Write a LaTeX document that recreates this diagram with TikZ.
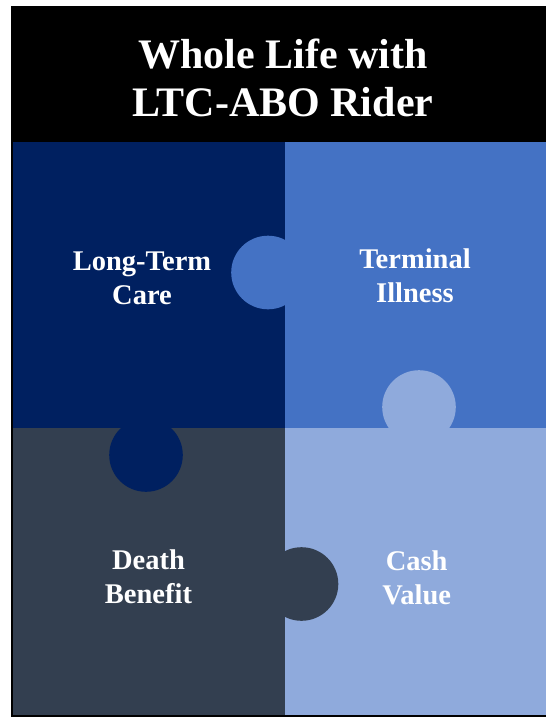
\documentclass[tikz,border=0pt]{standalone}
\usepackage{fontspec}
\setmainfont{Liberation Serif}
\definecolor{navyc}{HTML}{002060}
\definecolor{bluec}{HTML}{4472C4}
\definecolor{lightc}{HTML}{8FAADC}
\definecolor{slatec}{HTML}{333F50}
\begin{document}
\begin{tikzpicture}[x=1pt,y=-1pt,
  lbl/.style={text=white,align=center,inner sep=0pt,font=\fontsize{28.5}{34}\selectfont\bfseries},
  ttl/.style={text=white,align=center,inner sep=0pt,font=\fontsize{42}{48}\selectfont\bfseries}]
\useasboundingbox[fill=white] (0,0) rectangle (546,717);
% frame and header
\fill[black] (10.5,6) rectangle (546,717);
% pieces
\fill[navyc]  (12.5,142) rectangle (284.7,428);
\fill[bluec]  (284.7,142) rectangle (546,428);
\fill[slatec] (12.5,428) rectangle (284.7,715);
\fill[lightc] (284.7,428) rectangle (546,715);
% knobs
\fill[bluec]  (268,272.5) circle[radius=36.8pt];
\fill[lightc] (419,407) circle[radius=36.8pt];
\fill[navyc]  (146,455) circle[radius=36.8pt];
\fill[slatec] (301.5,584) circle[radius=36.8pt];
% texts
\node[ttl] (title) at (283,78) {Whole Life with\\LTC-ABO Rider};
\node[lbl] (ltc) at (142,278) {Long-Term\\Care};
\node[lbl] (ti) at (415,275.5) {Terminal\\Illness};
\node[lbl] (db) at (148.5,577) {Death\\Benefit};
\node[lbl] (cv) at (416.7,577.5) {Cash\\Value};
\end{tikzpicture}
\end{document}
